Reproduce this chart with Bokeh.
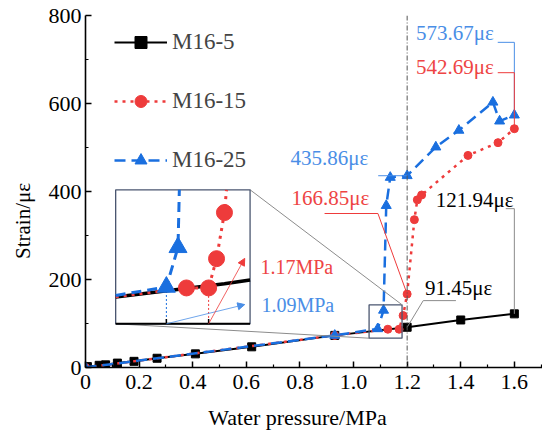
import numpy as np
from bokeh.plotting import figure
from bokeh.models import (Range1d, Span, Title, Arrow, NormalHead, FixedTicker,
                          CustomJSTickFormatter)
from bokeh.core.properties import value
from bokeh.embed import file_html
from bokeh.resources import INLINE

# ---------------- data ----------------
m5_x = [0.007, 0.051, 0.075, 0.119, 0.181, 0.267, 0.41, 0.62, 0.93, 1.2, 1.4, 1.6]
m5_y = [2, 5, 6, 10, 14, 21, 31, 47, 73, 91.45, 108, 121.94]
m15_x = [0.0, 0.93, 1.128, 1.17, 1.185, 1.2, 1.227, 1.238, 1.254, 1.427, 1.539, 1.6]
m15_y = [0.0, 73, 87, 87, 118, 166.85, 336, 381, 392, 482, 511, 542.69]
m25_x = [0.0, 0.93, 1.09, 1.112, 1.122, 1.137, 1.2, 1.307, 1.393, 1.52, 1.545, 1.6]
m25_y = [0.0, 73, 88, 130, 368, 432, 435.86, 501, 539, 603, 560, 573.67]

series_names = ["M16-5", "M16-15", "M16-25"]

x_ticks = [0, 0.2, 0.4, 0.6, 0.8, 1.0, 1.2, 1.4, 1.6]
x_tick_labels = ["0", "0.2", "0.4", "0.6", "0.8", "1.0", "1.2", "1.4", "1.6"]
x_minor = [0.1, 0.3, 0.5, 0.7, 0.9, 1.1, 1.3, 1.5, 1.7]
y_ticks = [0, 200, 400, 600, 800]
y_tick_labels = ["0", "200", "400", "600", "800"]
y_minor = [100, 300, 500, 700]

x_title = "Water pressure/MPa"
y_title = "Strain/\u03bc\u03b5"

# value call-outs
ann_text = ["573.67\u03bc\u03b5", "542.69\u03bc\u03b5", "435.86\u03bc\u03b5",
            "166.85\u03bc\u03b5", "121.94\u03bc\u03b5", "91.45\u03bc\u03b5"]
ann_x = [1.523, 1.523, 1.055, 1.059, 1.597, 1.518]
ann_y = [761, 682, 477, 386, 380, 180]

# inset (zoom) settings
inset_box_x = (0.1126, 0.614)
inset_box_y = (99.3, 403.9)
inset_win_x = (0.994, 1.2485)
inset_win_y = (49.0, 191.0)
zoom_box_x = (1.058, 1.181)
zoom_box_y = (66.6, 142.5)
onset_x = [1.09, 1.17]
onset_y = [88, 87]
onset_text = ["1.09MPa", "1.17MPa"]
onset_label_x = [0.928, 0.924]
onset_label_y = [141, 229.5]
onset_arrow_end = [(0.594, 143), (0.594, 248)]

# ---------------- styles ----------------
FONT = "Liberation Serif"
BLACK = "#000000"
RED = "#EE3B3B"
BLUE = "#1A6FDF"
BLUE_T = "#4A8EE6"
RED_T = "#EE4444"
GRAY = "#8C8C8C"
SLATE = "#4A5670"

XR = (0, 1.705)
YR = (0, 800)

p = figure(width=542, height=432, x_range=Range1d(*XR), y_range=Range1d(*YR),
           output_backend="svg", toolbar_location=None,
           min_border_left=83, min_border_right=0, min_border_top=15, min_border_bottom=65)
p.outline_line_color = None
p.grid.visible = False
p.background_fill_color = "white"

for ax in (p.xaxis[0], p.yaxis[0]):
    ax.axis_line_width = 1.6
    ax.major_tick_in = 6
    ax.major_tick_out = 0
    ax.minor_tick_in = 3
    ax.minor_tick_out = 0
    ax.major_tick_line_width = 1.5
    ax.minor_tick_line_width = 1.2
    ax.major_label_text_font = FONT
    ax.major_label_text_font_size = "22px"
    ax.major_label_text_color = BLACK

fmt_code = """
let best = 0;
for (let i = 0; i < tk.length; i++) {
  if (Math.abs(tk[i] - tick) < Math.abs(tk[best] - tick)) best = i;
}
return lb[best];
"""
p.xaxis.ticker = FixedTicker(ticks=x_ticks, minor_ticks=x_minor)
p.xaxis.formatter = CustomJSTickFormatter(args=dict(tk=x_ticks, lb=x_tick_labels), code=fmt_code)
p.xaxis.major_label_standoff = 7
p.yaxis.ticker = FixedTicker(ticks=y_ticks, minor_ticks=y_minor)
p.yaxis.formatter = CustomJSTickFormatter(args=dict(tk=y_ticks, lb=y_tick_labels), code=fmt_code)
p.yaxis.major_label_standoff = 4

# x title as axis label (padded with no-break spaces so it sits left of centre, as in the reference)
p.xaxis.axis_label = x_title + "\u00a0" * 6
p.xaxis.axis_label_text_font = FONT
p.xaxis.axis_label_text_font_size = "22px"
p.xaxis.axis_label_text_font_style = "normal"
p.xaxis.axis_label_text_color = BLACK
p.xaxis.axis_label_standoff = 13

# y title shifted downwards along the axis
p.add_layout(Title(text=y_title, align="left", offset=108.5, text_font=FONT,
                   text_font_size="21px", text_font_style="normal", text_color=BLACK,
                   vertical_align="middle", standoff=19), "left")

# vertical reference line
p.add_layout(Span(location=1.2, dimension="height", line_color="#555555",
                  line_dash="5 2 1 2", line_width=1))

# ---------------- main series ----------------
p.line(m5_x, m5_y, line_color=BLACK, line_width=2, legend_label=series_names[0])
p.scatter(m5_x, m5_y, marker="square", size=8, color=BLACK, legend_label=series_names[0])
p.line(m15_x, m15_y, line_color=RED, line_width=2.5, line_dash="3 5", legend_label=series_names[1])
p.scatter(m15_x, m15_y, marker="circle", size=8, color=RED, legend_label=series_names[1])
p.line(m25_x, m25_y, line_color=BLUE, line_width=2.5, line_dash="11 6", legend_label=series_names[2])
p.scatter(m25_x, m25_y, marker="triangle", size=10, color=BLUE, legend_label=series_names[2])

# ---------------- call-out leaders ----------------
lead_xs = [[1.538, m25_x[-1], m25_x[-1]],
           [1.538, m15_x[-1], m15_x[-1]],
           [1.092, m25_x[6]],
           [0.892, 1.091, m15_x[5]],
           [1.568, m5_x[-1], m5_x[-1]],
           [m5_x[9], 1.26, 1.382]]
lead_ys = [[739, 739, m25_y[-1]],
           [670, 670, m15_y[-1]],
           [m25_y[6], m25_y[6]],
           [350, 350, m15_y[5]],
           [361, 361, m5_y[-1]],
           [m5_y[9], 152, 152]]
lead_colors = [BLUE_T, RED, BLUE_T, RED, GRAY, GRAY]
p.multi_line(xs=lead_xs, ys=lead_ys, line_color=lead_colors, line_width=1)

ann_colors = [BLUE_T, RED_T, BLUE_T, RED_T, BLACK, BLACK]
p.text(x=ann_x, y=ann_y, text=ann_text, text_color=ann_colors,
       text_font=value(FONT), text_font_size="21px",
       text_align="right", text_baseline="middle")

# ---------------- zoom box & connectors ----------------
p.quad(left=[zoom_box_x[0]], right=[zoom_box_x[1]], bottom=[zoom_box_y[0]], top=[zoom_box_y[1]],
       fill_color=None, line_color=SLATE, line_width=1.3)
p.segment(x0=[inset_box_x[1], inset_box_x[0]], y0=[inset_box_y[1], inset_box_y[0]],
          x1=[zoom_box_x[1], zoom_box_x[0]], y1=[zoom_box_y[1], zoom_box_y[0]],
          line_color=GRAY, line_width=1)

# ---------------- inset ----------------
def extra_range(win, box, full):
    a, b = win
    c, d = box
    k = (b - a) / (d - c)
    return Range1d(a + (full[0] - c) * k, a + (full[1] - c) * k)

def to_main(x, y):
    mx = inset_box_x[0] + (x - inset_win_x[0]) * (inset_box_x[1] - inset_box_x[0]) / (inset_win_x[1] - inset_win_x[0])
    my = inset_box_y[0] + (y - inset_win_y[0]) * (inset_box_y[1] - inset_box_y[0]) / (inset_win_y[1] - inset_win_y[0])
    return mx, my

p.extra_x_ranges = {"ix": extra_range(inset_win_x, inset_box_x, XR)}
p.extra_y_ranges = {"iy": extra_range(inset_win_y, inset_box_y, YR)}

def clip_polyline(xs, ys, xmin, xmax, ymin, ymax):
    segs = []
    cx, cy = [], []
    for i in range(len(xs) - 1):
        x0, y0, x1, y1 = xs[i], ys[i], xs[i + 1], ys[i + 1]
        dx, dy = x1 - x0, y1 - y0
        t0, t1 = 0.0, 1.0
        ok = True
        for pp, q in ((-dx, x0 - xmin), (dx, xmax - x0), (-dy, y0 - ymin), (dy, ymax - y0)):
            if pp == 0:
                if q < 0:
                    ok = False
                    break
            else:
                r = q / pp
                if pp < 0:
                    if r > t1:
                        ok = False
                        break
                    t0 = max(t0, r)
                else:
                    if r < t0:
                        ok = False
                        break
                    t1 = min(t1, r)
        if not ok:
            if cx:
                segs.append((cx, cy))
                cx, cy = [], []
            continue
        ax_, ay_ = x0 + t0 * dx, y0 + t0 * dy
        bx_, by_ = x0 + t1 * dx, y0 + t1 * dy
        if cx and (abs(cx[-1] - ax_) > 1e-9 or abs(cy[-1] - ay_) > 1e-9):
            segs.append((cx, cy))
            cx, cy = [], []
        if not cx:
            cx, cy = [ax_], [ay_]
        cx.append(bx_)
        cy.append(by_)
        if t1 < 1.0:
            segs.append((cx, cy))
            cx, cy = [], []
    if cx:
        segs.append((cx, cy))
    return [s[0] for s in segs], [s[1] for s in segs]

def inside(xs, ys):
    X = np.array(xs, dtype=float)
    Y = np.array(ys, dtype=float)
    m = (X >= inset_win_x[0]) & (X <= inset_win_x[1]) & (Y >= inset_win_y[0]) & (Y <= inset_win_y[1])
    return X[m], Y[m]

p.quad(left=[inset_box_x[0]], right=[inset_box_x[1]], bottom=[inset_box_y[0]], top=[inset_box_y[1]],
       fill_color="white", line_color=SLATE, line_width=1.3)

IR = dict(x_range_name="ix", y_range_name="iy")
clip = (inset_win_x[0], inset_win_x[1], inset_win_y[0], inset_win_y[1])

# drop lines to inset axis
p.segment(x0=[onset_x[0]], y0=[onset_y[0]], x1=[onset_x[0]], y1=[inset_win_y[0]],
          line_color=BLUE, line_dash="2 2", line_width=1, **IR)
p.segment(x0=[onset_x[1]], y0=[onset_y[1]], x1=[onset_x[1]], y1=[inset_win_y[0]],
          line_color=RED, line_dash="2 2", line_width=1, **IR)

bx, by = clip_polyline(m5_x, m5_y, *clip)
p.multi_line(xs=bx, ys=by, line_color=BLACK, line_width=3.5, **IR)
rx, ry = clip_polyline(m15_x, m15_y, *clip)
p.multi_line(xs=rx, ys=ry, line_color=RED, line_width=3, line_dash="3 5", **IR)
ux, uy = clip_polyline(m25_x, m25_y, *clip)
p.multi_line(xs=ux, ys=uy, line_color=BLUE, line_width=3, line_dash="10 6", **IR)

rmx, rmy = inside(m15_x, m15_y)
p.scatter(rmx, rmy, marker="circle", size=16, color=RED, **IR)
umx, umy = inside(m25_x, m25_y)
p.scatter(umx, umy, marker="triangle", size=18, color=BLUE, **IR)

# inset axis line and ticks
p.segment(x0=[inset_win_x[0]], y0=[inset_win_y[0]], x1=[inset_win_x[1]], y1=[inset_win_y[0]],
          line_color=BLACK, line_width=2, **IR)
p.segment(x0=onset_x, y0=[inset_win_y[0]] * 2, x1=onset_x, y1=[inset_win_y[0] + 5] * 2,
          line_color=BLACK, line_width=1.5, **IR)

# arrows and onset labels
onset_colors = [BLUE_T, RED]
for i in range(2):
    sx, sy = to_main(onset_x[i], inset_win_y[0])
    ex, ey = onset_arrow_end[i]
    p.add_layout(Arrow(end=NormalHead(size=7, fill_color=onset_colors[i], line_color=onset_colors[i]),
                       x_start=sx, y_start=sy, x_end=ex, y_end=ey,
                       line_color=onset_colors[i], line_width=0.8))
p.text(x=onset_label_x, y=onset_label_y, text=onset_text,
       text_color=[BLUE_T, RED_T], text_font=value(FONT), text_font_size="20px",
       text_align="right", text_baseline="middle")

# ---------------- legend ----------------
lg = p.legend[0]
lg.location = (29, 192)
lg.border_line_color = None
lg.background_fill_alpha = 0
lg.label_text_font = FONT
lg.label_text_font_size = "23px"
lg.glyph_width = 53
lg.glyph_height = 30
lg.label_height = 30
lg.spacing = 29
lg.padding = 0
lg.margin = 0
lg.label_standoff = 5

open("out.html", "w").write(file_html(p, INLINE))
